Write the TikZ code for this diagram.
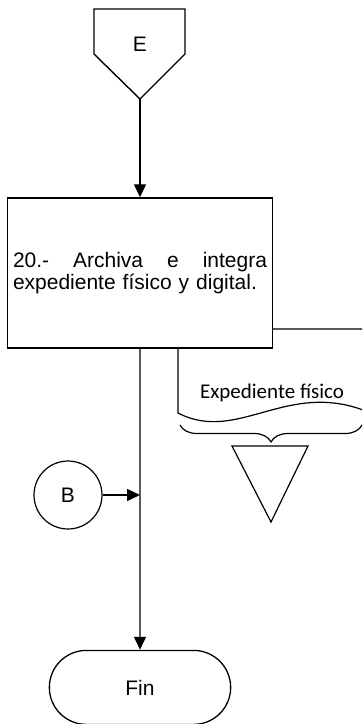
\documentclass[tikz,border=0pt]{standalone}
\usepackage{fontspec}
\setmainfont{Liberation Sans}
\newfontfamily\docfont{Carlito}
\usetikzlibrary{arrows.meta,positioning,shapes.misc,decorations.pathreplacing}

\begin{document}
\begin{tikzpicture}[
  x=1pt,y=-1pt,
  font=\fontsize{21pt}{22pt}\selectfont,
  proc/.style={draw,line width=1.5pt,fill=white,minimum width=265pt,
    minimum height=150pt,text width=254pt,inner xsep=5.5pt,align=left},
  conn/.style={circle,draw,line width=1.2pt,minimum size=68pt,inner sep=0pt},
  term/.style={rounded rectangle,draw,line width=1.3pt,
    minimum width=188pt,minimum height=74pt},
  arr/.style={-{Triangle[length=13pt,width=12pt]},line width=1.4pt},
  docline/.style={line width=1.2pt},
]
\useasboundingbox (0,0) rectangle (362,724);
\fill[white] (0,0) rectangle (362,724);
\clip (0,0) rectangle (362,724);
% archivo fisico (detras de la actividad)
\draw[docline] (375,329) -- (178,329) -- (178,413)
  .. controls (240,445) and (290,375) .. (375,415);
\node[font=\docfont\fontsize{21pt}{22pt}\selectfont,anchor=base] (doc) at (272,398) {Expediente físico};
\draw[docline,decorate,decoration={brace,amplitude=17pt,mirror}] (180,425) -- (362,425);
\draw[docline] (232,446) -- (308,446) -- (271,522) -- cycle;
% conector de pagina E
\draw[line width=1.4pt] (94,9) -- (185,9) -- (185,54) -- (140,99) -- (94,54) -- cycle;
\node (E) at (140,44) {E};
\coordinate (Etip) at (140,99);
% actividad 20
\node[proc] (act) at (140,273) {20.-\hfill Archiva\hfill e\hfill integra\\expediente físico y digital.};
\node[term, below=301pt of act] (fin) {Fin};
\node[conn] (B) at (68,495) {B};
\draw[arr] (Etip) -- (act);
\draw[arr] (act) -- (fin);
\draw[arr] (B) -- (B -| act.south);
\end{tikzpicture}
\end{document}
